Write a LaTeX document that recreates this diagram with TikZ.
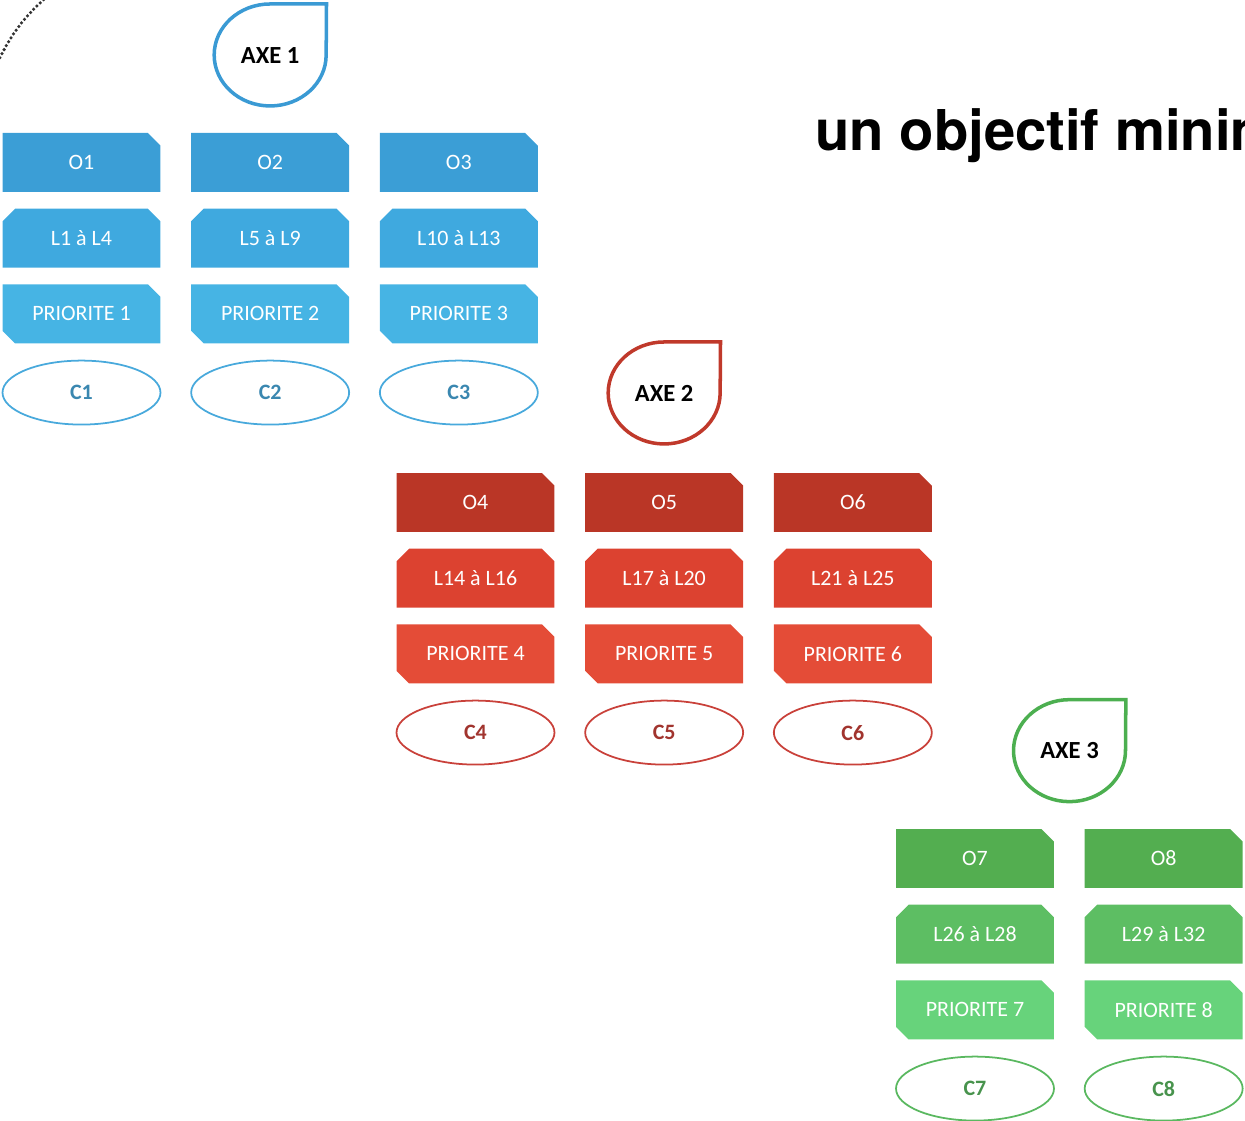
\documentclass[tikz,border=0pt]{standalone}
\usepackage{fontspec}
\setmainfont{Carlito}
\newfontfamily\titlefont{TeX Gyre Heros}
\usetikzlibrary{positioning,shapes.misc,shapes.geometric}

\definecolor{bleuO}{HTML}{3B9ED6}
\definecolor{bleuL}{HTML}{3FA9DF}
\definecolor{bleuP}{HTML}{46B4E4}
\definecolor{bleuC}{HTML}{48A9DC}
\definecolor{bleuT}{HTML}{3A9AD4}
\definecolor{rougeO}{HTML}{BA3626}
\definecolor{rougeL}{HTML}{DC4230}
\definecolor{rougeP}{HTML}{E44C37}
\definecolor{rougeC}{HTML}{C9413A}
\definecolor{rougeT}{HTML}{C0392B}
\definecolor{vertO}{HTML}{53AE50}
\definecolor{vertL}{HTML}{5DBE63}
\definecolor{vertP}{HTML}{67D37B}
\definecolor{vertC}{HTML}{5AB860}
\definecolor{vertT}{HTML}{4CAF50}

\tikzset{
  box/.style={chamfered rectangle, chamfered rectangle angle=45, chamfered rectangle xsep=0.14cm,
    minimum width=3.16cm, minimum height=1.18cm, inner sep=0pt, text=white,
    font=\fontsize{12.5}{14}\selectfont},
  orow/.style={box, fill=#1, chamfered rectangle corners=north east},
  lrow/.style={box, fill=#1, chamfered rectangle corners={north west, north east}},
  prow/.style={box, fill=#1, chamfered rectangle corners={north east, south west}},
  crow/.style={ellipse, draw=#1, line width=1pt, text=#1!80!black, minimum width=3.16cm,
    minimum height=1.28cm, inner sep=0pt, font=\bfseries\fontsize{12.5}{14}\selectfont},
  axe/.style={rectangle, minimum width=2.24cm, minimum height=2.04cm, inner sep=0pt,
    font=\bfseries\fontsize{14}{16}\selectfont},
  drop/.style={line width=2pt, draw=#1},
  pointille/.style={gray!40!black, line width=2pt, line cap=round, dash pattern=on 0pt off 2.6pt},
}

\begin{document}
\begin{tikzpicture}[x=0.02cm, y=0.02cm, node distance=0.32cm and 0.6cm]
  \useasboundingbox (0,0) rectangle (1245,1120);
  \clip (0,0) rectangle (1245,1120);

  % arc en pointilles
  \coordinate (arcA) at (-4,1054);
  \coordinate (arcB) at (50,1126);
  \draw[pointille] (arcA) to[bend left=12] (arcB);

  % titre
  \node[anchor=base west, inner sep=0pt, font=\titlefont\bfseries\fontsize{32}{38}\selectfont] (titre) at (815,969) {un objectif minimum};

  % axe 1
  \node[orow=bleuO] (O1) at (81.5,957.5) {O1};
  \node[orow=bleuO, right=of O1] (O2) {O2};
  \node[orow=bleuO, right=of O2] (O3) {O3};
  \node[lrow=bleuL, below=of O1] (L1) {L1 à L4};
  \node[lrow=bleuL, below=of O2] (L2) {L5 à L9};
  \node[lrow=bleuL, below=of O3] (L3) {L10 à L13};
  \node[prow=bleuP, below=of L1] (P1) {PRIORITE 1};
  \node[prow=bleuP, below=of L2] (P2) {PRIORITE 2};
  \node[prow=bleuP, below=of L3] (P3) {PRIORITE 3};
  \node[crow=bleuC, below=of P1] (C1) {C1};
  \node[crow=bleuC, below=of P2] (C2) {C2};
  \node[crow=bleuC, below=of P3] (C3) {C3};
  \node[axe, above=0.52cm of O2] (AXE1) {AXE 1};
  \draw[drop=bleuT] (AXE1.north) arc[start angle=90, end angle=360, x radius=1.12cm, y radius=1.02cm]
    -- (AXE1.north east) -- cycle;

  % axe 2
  \node[orow=rougeO] (O4) at (475.5,617.5) {O4};
  \node[orow=rougeO, right=of O4] (O5) {O5};
  \node[orow=rougeO, right=of O5] (O6) {O6};
  \node[lrow=rougeL, below=of O4] (L4) {L14 à L16};
  \node[lrow=rougeL, below=of O5] (L5) {L17 à L20};
  \node[lrow=rougeL, below=of O6] (L6) {L21 à L25};
  \node[prow=rougeP, below=of L4] (P4) {PRIORITE 4};
  \node[prow=rougeP, below=of L5] (P5) {PRIORITE 5};
  \node[prow=rougeP, below=of L6] (P6) {PRIORITE 6};
  \node[crow=rougeC, below=of P4] (C4) {C4};
  \node[crow=rougeC, below=of P5] (C5) {C5};
  \node[crow=rougeC, below=of P6] (C6) {C6};
  \node[axe, above=0.56cm of O5] (AXE2) {AXE 2};
  \draw[drop=rougeT] (AXE2.north) arc[start angle=90, end angle=360, x radius=1.12cm, y radius=1.02cm]
    -- (AXE2.north east) -- cycle;

  % axe 3
  \node[orow=vertO] (O7) at (975,261.5) {O7};
  \node[orow=vertO, right=of O7] (O8) {O8};
  \node[lrow=vertL, below=of O7] (L7) {L26 à L28};
  \node[lrow=vertL, below=of O8] (L8) {L29 à L32};
  \node[prow=vertP, below=of L7] (P7) {PRIORITE 7};
  \node[prow=vertP, below=of L8] (P8) {PRIORITE 8};
  \node[crow=vertC, below=of P7] (C7) {C7};
  \node[crow=vertC, below=of P8] (C8) {C8};
  \node[axe] (AXE3) at (1069.5,369) {AXE 3};
  \draw[drop=vertT] (AXE3.north) arc[start angle=90, end angle=360, x radius=1.12cm, y radius=1.02cm]
    -- (AXE3.north east) -- cycle;
\end{tikzpicture}
\end{document}
